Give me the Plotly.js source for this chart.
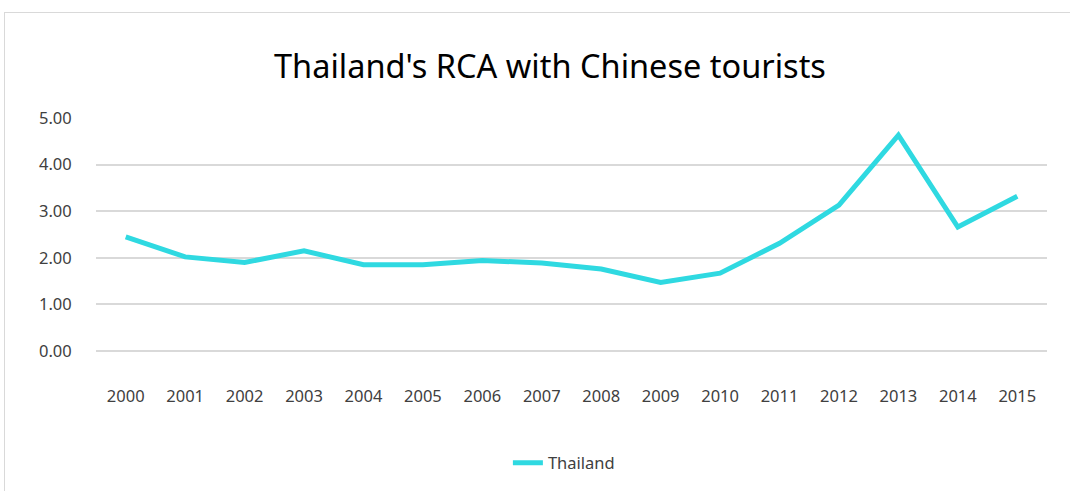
<!DOCTYPE html>
<html><head><meta charset="utf-8">
<script src="https://cdn.plot.ly/plotly-3.0.1.min.js"></script>
<style>
html,body{margin:0;padding:0;background:#fff;}
#wrap{position:relative;width:1070px;height:491px;}
#chart{width:1070px;height:491px;}
#frame{position:absolute;left:4px;top:12px;width:1080px;height:500px;border:1px solid #d9d9d9;pointer-events:none;}
</style></head>
<body>
<div id="wrap"><div id="chart"></div><div id="frame"></div></div>
<script>
const years = ['2000','2001','2002','2003','2004','2005','2006','2007','2008','2009','2010','2011','2012','2013','2014','2015'];
const thailand = [2.45,2.02,1.90,2.15,1.85,1.85,1.94,1.89,1.76,1.47,1.67,2.31,3.13,4.63,2.66,3.32];
const yTicks = [0,1,2,3,4,5];
const yTickText = ['0.00','1.00','2.00','3.00','4.00','5.00'];

const trace = {
  x: years, y: thailand, type: 'scatter', mode: 'lines', name: 'Thailand',
  line: {color: '#2FD9E1', width: 5}
};
const layout = {
  width: 1070, height: 491,
  margin: {l: 96, r: 23, t: 118, b: 139},
  paper_bgcolor: '#fff', plot_bgcolor: '#fff',
  font: {family: 'Noto Sans, DejaVu Sans, sans-serif', color: '#404040', size: 16.5},
  title: {text: "Thailand's RCA with Chinese tourists", x: 0.514, xanchor: 'center', y: 0.865, yanchor: 'middle',
          font: {size: 32.5, color: '#000', family: 'Noto Sans, sans-serif'}},
  xaxis: {type: 'category', range: [-0.5, 15.5], showgrid: false, zeroline: false, showline: false,
          ticks: 'outside', ticklen: 30, tickcolor: 'rgba(0,0,0,0)',
          tickfont: {size: 16.5, color: '#404040'}},
  yaxis: {range: [0, 5], tickvals: yTicks, ticktext: yTickText,
          showgrid: true, gridcolor: '#D9D9D9', gridwidth: 2,
          zeroline: true, zerolinecolor: '#D9D9D9', zerolinewidth: 2.5,
          ticks: 'outside', ticklen: 20, tickcolor: 'rgba(0,0,0,0)',
          tickfont: {size: 16.5, color: '#404040'}},
  showlegend: true,
  legend: {orientation: 'h', x: 0.492, xanchor: 'center', y: -0.474, yanchor: 'middle',
           font: {size: 16.5, color: '#404040'}},
};
Plotly.newPlot('chart', [trace], layout, {displayModeBar: false, staticPlot: true});
</script>
</body></html>
